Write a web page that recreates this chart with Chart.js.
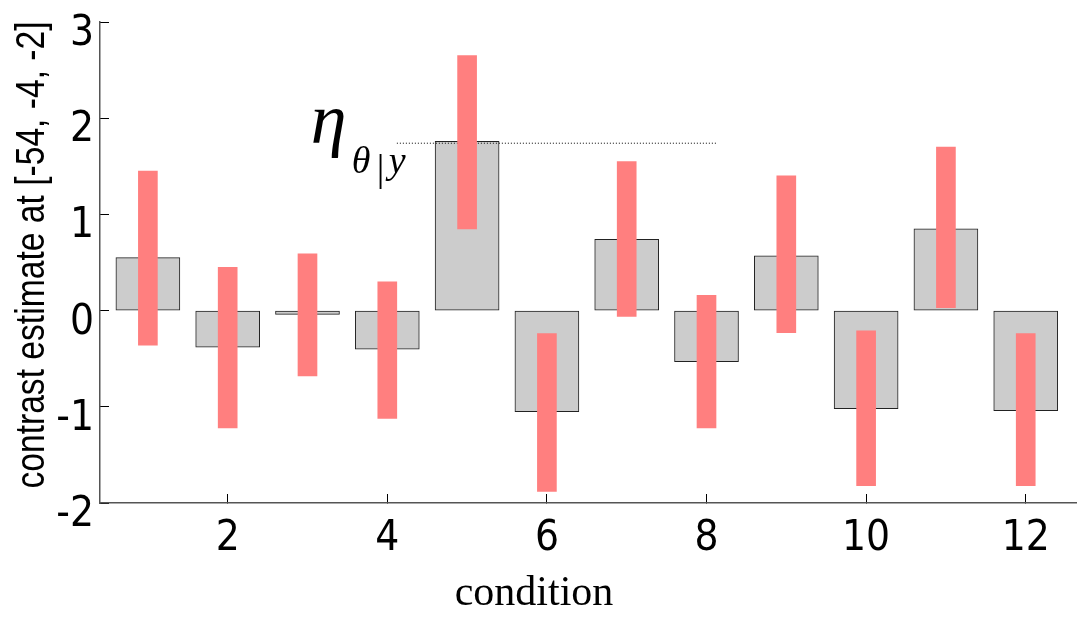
<!DOCTYPE html>
<html>
<head>
<meta charset="utf-8">
<script src="https://cdn.jsdelivr.net/npm/chart.js@4.4.1/dist/chart.umd.min.js"></script>
<style>
  body { margin: 0; background: #fff; }
  #wrap { width: 1080px; height: 618px; }
</style>
</head>
<body>
<div id="wrap"><canvas id="contrastChart"></canvas></div>
<script>
// condition index and contrast estimates
var conditions = [1, 2, 3, 4, 5, 6, 7, 8, 9, 10, 11, 12];
var estimates = [0.55, -0.38, -0.04, -0.40, 1.76, -1.05, 0.74, -0.53, 0.57, -1.02, 0.85, -1.04];
var ciLow = [-0.36, -1.22, -0.68, -1.12, 0.85, -1.88, -0.06, -1.22, -0.23, -1.82, 0.03, -1.82];
var ciHigh = [1.45, 0.45, 0.59, 0.30, 2.65, -0.24, 1.55, 0.16, 1.40, -0.21, 1.70, -0.24];
var xTicks = [2, 4, 6, 8, 10, 12];
var yTicks = [-2, -1, 0, 1, 2, 3];
// dotted reference line for eta
var etaLineX = [4.12, 8.125];
var etaLineY = 1.74;
var yTitle = 'contrast estimate at [-54, -4, -2]';
var xTitle = 'condition';

var narrow = "'Liberation Sans Narrow', 'Arial Narrow', 'DejaVu Sans Condensed', sans-serif";
var serif = "'Liberation Serif', 'Times New Roman', serif";

var labelsPlugin = {
    id: 'labels',
    afterDraw: function (chart) {
        var ctx = chart.ctx;
        var xs = chart.scales.x, ys = chart.scales.y;
        var x0 = xs.getPixelForValue(etaLineX[0]);
        var y0 = ys.getPixelForValue(etaLineY);
        ctx.save();
        ctx.fillStyle = '#000';
        ctx.textBaseline = 'alphabetic';
        ctx.textAlign = 'left';
        ctx.font = 'italic 72px ' + serif;
        ctx.fillText('\u03b7', x0 - 86, y0);
        ctx.font = 'italic 38px ' + serif;
        ctx.fillText('\u03b8', x0 - 45, y0 + 30);
        ctx.font = '38px ' + serif;
        ctx.fillText('|', x0 - 20, y0 + 38);
        ctx.font = 'italic 38px ' + serif;
        ctx.fillText('y', x0 - 8, y0 + 30);
        // x axis title
        ctx.textAlign = 'center';
        ctx.font = '42px ' + serif;
        ctx.fillText(xTitle, 534, 605);
        ctx.restore();

        // y axis title, narrow sans (compressed Liberation Sans)
        ctx.save();
        ctx.translate(44, 255);
        ctx.rotate(-Math.PI / 2);
        ctx.scale(0.82, 1);
        ctx.fillStyle = '#000';
        ctx.textAlign = 'center';
        ctx.textBaseline = 'alphabetic';
        ctx.font = "41px 'Liberation Sans', Arial, sans-serif";
        ctx.fillText(yTitle, 0, 0);
        ctx.restore();
    }
};

var ctx = document.getElementById('contrastChart').getContext('2d');
var chart = new Chart(ctx, {
    type: 'bar',
    data: {
        datasets: [{
            label: 'interval',
            data: conditions.map(function (c, i) { return { x: c, y: [ciLow[i], ciHigh[i]] }; }),
            backgroundColor: '#ff7f7f',
            borderWidth: 0,
            barThickness: 19,
            grouped: false,
            order: 0
        }, {
            type: 'line',
            label: 'eta',
            data: etaLineX.map(function (x) { return { x: x, y: etaLineY }; }),
            borderColor: '#000',
            borderWidth: 1,
            borderDash: [1, 2],
            pointRadius: 0,
            fill: false,
            order: 1
        }, {
            label: 'estimate',
            data: conditions.map(function (c, i) { return { x: c, y: estimates[i] }; }),
            backgroundColor: '#cccccc',
            borderColor: '#222',
            borderWidth: 1,
            borderSkipped: false,
            barThickness: 64,
            grouped: false,
            order: 2
        }]
    },
    options: {
        responsive: true,
        maintainAspectRatio: false,
        animation: false,
        layout: { padding: { top: 22, right: 4, left: 0, bottom: 0 } },
        plugins: {
            legend: { display: false },
            tooltip: { enabled: false }
        },
        scales: {
            x: {
                type: 'linear',
                position: 'bottom',
                offset: false,
                min: 0.4,
                max: 12.63,
                afterBuildTicks: function (s) { s.ticks = xTicks.map(function (v) { return { value: v }; }); },
                afterFit: function (s) { s.height = 115; s.paddingLeft = 0; s.paddingRight = 0; },
                grid: { offset: false, drawOnChartArea: false, tickLength: -9, color: '#000' },
                border: { color: '#555', width: 1.5 },
                ticks: { color: '#000', font: { family: narrow, size: 42 }, padding: 20, maxRotation: 0 }
            },
            y: {
                min: -2,
                max: 3,
                afterBuildTicks: function (s) { s.ticks = yTicks.map(function (v) { return { value: v }; }); },
                afterFit: function (s) { s.width = 100; s.paddingTop = 0; s.paddingBottom = 0; },
                grid: { drawOnChartArea: false, tickLength: -9, color: '#000' },
                border: { color: '#555', width: 1.5 },
                ticks: { color: '#000', font: { family: narrow, size: 42 }, padding: 15, labelOffset: 12 }
            }
        }
    },
    plugins: [labelsPlugin]
});
</script>
</body>
</html>
